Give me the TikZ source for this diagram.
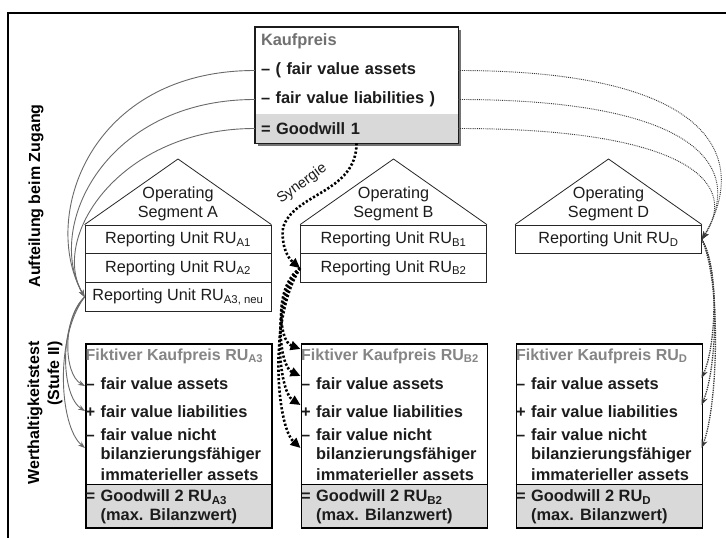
\documentclass[tikz,border=0pt]{standalone}
\usepackage{fontspec}
\setmainfont{Liberation Sans}
\usetikzlibrary{arrows.meta}
\definecolor{fillg}{HTML}{D9D9D9}
\definecolor{kpgray}{HTML}{707070}
\definecolor{headgray}{HTML}{858585}
\definecolor{ink}{HTML}{1C1C1C}
\definecolor{curveg}{HTML}{6A6A6A}
\definecolor{dotg}{HTML}{383838}
\newcommand\pre[1]{\makebox[15pt][l]{#1}}
\begin{document}
\begin{tikzpicture}[x=1pt,y=-1pt,
  bf/.style={font=\fontsize{16.4}{20}\selectfont\bfseries, text=ink},
  hf/.style={font=\fontsize{16}{20}\selectfont\bfseries},
  rg/.style={font=\fontsize{16.2}{19}\selectfont, text=ink},
  kprow/.style={bf, minimum width=203pt, minimum height=29pt, text width=191pt,
    align=left, inner xsep=6pt, inner ysep=0pt},
  rurow/.style={rg, draw=black!85, line width=0.8pt, minimum width=186pt,
    minimum height=28.8pt, inner sep=0pt},
  segtri/.style={draw=black!85, line width=0.8pt, line join=miter},
  seglbl/.style={rg, align=center, inner sep=0pt},
  lowbox/.style={draw=black, line width=1.6pt, minimum width=186pt,
    minimum height=184pt, inner sep=0pt},
  ln/.style={bf, anchor=west, inner sep=0pt},
  gcurve/.style={draw=curveg, line width=0.9pt, -{Stealth[length=7pt,width=5pt]}},
  rdot/.style={draw=dotg, line width=0.9pt, densely dotted, -{Stealth[length=8pt,width=6pt]}},
  ddot/.style={draw=dotg, line width=1.3pt, densely dotted, -{Stealth[length=8pt,width=6pt]}},
  bdot/.style={draw=black, line width=2.6pt, dash pattern=on 2.2pt off 2pt,
    -{Triangle[length=10pt,width=9pt]}},
]
\useasboundingbox (0,0) rectangle (726,538);
\fill[white] (0,0) rectangle (726,538);

% outer frame
\draw[line width=1.2pt] (8,560) -- (8,13) -- (740,13);

% side labels
\node[hf, rotate=90] (lab1) at (36,196) {Aufteilung beim Zugang};
\node[hf, rotate=90, align=right] (lab2) at (45,413) {Werthaltigkeitstest\\(Stufe II)};

% purchase price box
\fill[black!55] (257.5,29.5) rectangle (460.5,145.5);
\node[kprow, fill=white, text=kpgray] (kp1) at (356.5,41.5) {Kaufpreis};
\node[kprow, fill=white] (kp2) at (356.5,70.5) {– ( fair value assets};
\node[kprow, fill=white] (kp3) at (356.5,99.5) {– fair value liabilities )};
\node[kprow, fill=fillg] (kp4) at (356.5,128.5) {= Goodwill 1};
\draw[line width=1.4pt, draw=ink] (kp1.north west) rectangle (kp4.south east);

% reporting units
\node[rurow] (ra1) at (178,239.4) {Reporting Unit RU\textsubscript{A1}};
\node[rurow] (ra2) at (178,268.2) {Reporting Unit RU\textsubscript{A2}};
\node[rurow] (ra3) at (178,297) {Reporting Unit RU\textsubscript{A3, neu}};
\node[rurow] (rb1) at (393.5,239.4) {Reporting Unit RU\textsubscript{B1}};
\node[rurow] (rb2) at (393.5,268.2) {Reporting Unit RU\textsubscript{B2}};
\node[rurow] (rd) at (608.5,239.4) {Reporting Unit RU\textsubscript{D}};

% operating segment roofs
\coordinate (sa-top) at (178,159);
\coordinate (sb-top) at (393.5,159);
\coordinate (sd-top) at (608.5,159);
\draw[segtri] (ra1.north west) -- (sa-top) -- (ra1.north east);
\draw[segtri] (rb1.north west) -- (sb-top) -- (rb1.north east);
\draw[segtri] (rd.north west) -- (sd-top) -- (rd.north east);
\node[seglbl] (sa) at (178,204) {Operating\\Segment A};
\node[seglbl] (sb) at (393.5,204) {Operating\\Segment B};
\node[seglbl] (sd) at (608.5,204) {Operating\\Segment D};

% impairment test boxes
\foreach \k/\x/\s in {a/85/A3, b/300.5/B2, d/515.5/D} {
  \fill[fillg] (\x,484) rectangle ++(186,43);
  \draw[line width=0.8pt] (\x,484) -- ++(186,0);
  \node[lowbox, anchor=north west] (\k-box) at (\x,343) {};
  \node[hf, anchor=west, inner sep=0pt, text=headgray] (\k-head) at (\x+0.5,356) {Fiktiver Kaufpreis RU\textsubscript{\s}};
  \node[ln] (\k-fv) at (\x+0.5,384) {\pre{–}fair value assets};
  \node[ln] (\k-lb) at (\x+0.5,412) {\pre{+}fair value liabilities};
  \node[ln] (\k-nv) at (\x+0.5,435) {\pre{–}fair value nicht};
  \node[ln] (\k-bf) at (\x+0.5,455) {\pre{}bilanzierungsfähiger};
  \node[ln] (\k-im) at (\x+0.5,475) {\pre{}immaterieller assets};
  \node[ln] (\k-gw) at (\x+0.5,497) {\pre{=}Goodwill 2 RU\textsubscript{\s}};
  \node[ln] (\k-mx) at (\x+0.5,516) {\pre{}(max. Bilanzwert)};
}

% arrow targets on the box sides
\coordinate (a-t1) at (85,386);
\coordinate (a-t2) at (85,411);
\coordinate (a-t3) at (85,448);
\coordinate (b-t0) at (300.5,349);
\coordinate (b-t1) at (300.5,376);
\coordinate (b-t2) at (300.5,405);
\coordinate (b-t3) at (300.5,448);
\coordinate (d-t1) at (701.5,378);
\coordinate (d-t2) at (701.5,405);
\coordinate (d-t3) at (701.5,448);

% allocation at acquisition (segment A)
\draw[gcurve] (kp2.west) .. controls +(-165,0) and +(-45,-80) .. (ra3.west);
\draw[gcurve] (kp3.west) .. controls +(-150,0) and +(-40,-70) .. (ra3.west);
\draw[gcurve] (kp4.west) .. controls +(-135,0) and +(-35,-60) .. (ra3.west);
\draw[gcurve] (ra3.west) .. controls +(-22,20) and +(-22,-12) .. (a-t1);
\draw[gcurve] (ra3.west) .. controls +(-26,28) and +(-24,-15) .. (a-t2);
\draw[gcurve] (ra3.west) .. controls +(-30,40) and +(-26,-22) .. (a-t3);

% allocation at acquisition (segment D)
\draw[rdot] (kp2.east) .. controls +(250,0) and +(50,-85) .. (rd.east);
\draw[rdot] (kp3.east) .. controls +(235,0) and +(45,-75) .. (rd.east);
\draw[rdot] (kp4.east) .. controls +(220,0) and +(40,-60) .. (rd.east);
\draw[ddot] (rd.east) .. controls +(18,30) and +(14,-30) .. (d-t1);
\draw[ddot] (rd.east) .. controls +(19,35) and +(15,-35) .. (d-t2);
\draw[ddot] (rd.east) .. controls +(20,45) and +(16,-40) .. (d-t3);

% synergy (segment B)
\coordinate (syn-via) at (283,228);
\draw[bdot] (kp4.south) .. controls +(0,50) and +(10,-35) .. (syn-via)
  .. controls +(-2,18) and +(-12,-10) .. (rb2.west);
\node[font=\fontsize{14.5}{16}\selectfont, text=ink, rotate=36, inner sep=0pt] (syn) at (302,184) {Synergie};
\draw[bdot] (rb2.west) .. controls +(-26,18) and +(-22,-8) .. (b-t0);
\draw[bdot] (rb2.west) .. controls +(-28,25) and +(-22,-10) .. (b-t1);
\draw[bdot] (rb2.west) .. controls +(-30,35) and +(-22,-14) .. (b-t2);
\draw[bdot] (rb2.west) .. controls +(-32,50) and +(-24,-22) .. (b-t3);
\end{tikzpicture}
\end{document}
